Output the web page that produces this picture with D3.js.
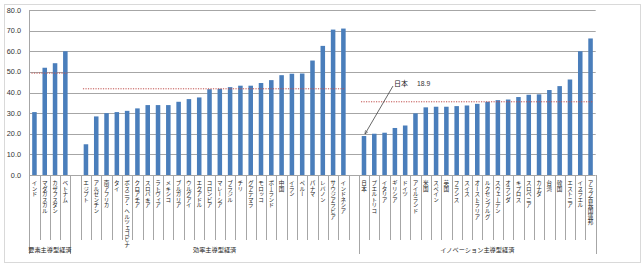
<!DOCTYPE html>
<html>
<head>
<meta charset="utf-8">
<script src="https://cdn.jsdelivr.net/npm/d3@7"></script>
<style>
  body { margin: 0; background: #fff; }
  svg { display: block; }
</style>
</head>
<body>
<script>
let groupNames = ["要素主導型経済", "効率主導型経済", "イノベーション主導型経済"];
let groupAverages = [49.4, 41.8, 35.5];

let factorCountries = ["インド", "マダガスカル", "カザフスタン", "ベトナム"];
let factorValues = [30.5, 52.0, 54.2, 60.0];

let efficiencyCountries = ["", "エジプト", "アルゼンチン", "南アフリカ", "タイ", "ボスニア・ヘルツェゴビナ", "クロアチア", "スロバキア", "ラトヴィア", "メキシコ", "ブルガリア", "ウルグアイ", "エクアドル", "コロンビア", "マレーシア", "ブラジル", "チリ", "グアテマラ", "モロッコ", "ポーランド", "中国", "イラン", "ペルー", "パナマ", "レバノン", "サウジアラビア", "インドネシア", ""];
let efficiencyValues = [null, 14.9, 28.4, 30.0, 30.5, 31.1, 32.3, 33.9, 33.9, 33.9, 35.5, 36.8, 37.6, 41.6, 41.8, 42.6, 43.3, 43.3, 44.6, 46.0, 48.4, 49.1, 49.2, 55.5, 62.6, 70.5, 71.0, null];

let innovationCountries = ["日本", "プエルトリコ", "イタリア", "ギリシア", "ドイツ", "アイルランド", "米国", "スペイン", "英国", "フランス", "スイス", "オーストラリア", "ルクセンブルグ", "スウェーデン", "オランダ", "キプロス", "スロベニア", "カナダ", "台湾", "韓国", "エストニア", "イスラエル", "アラブ首長国連邦"];
let innovationValues = [18.9, 20.0, 20.5, 22.8, 24.0, 29.9, 32.8, 33.1, 33.1, 33.4, 33.7, 34.5, 35.5, 36.3, 36.6, 37.8, 38.9, 39.1, 41.2, 43.1, 46.3, 60.0, 66.2];

let yTicks = [0, 10, 20, 30, 40, 50, 60, 70, 80];

let groupCountries = [factorCountries, efficiencyCountries, innovationCountries];
let groupValues = [factorValues, efficiencyValues, innovationValues];

let rows = [];
groupCountries.forEach(function(list, g) {
    list.forEach(function(name, i) {
        rows.push({key: "c" + rows.length, name: name, value: groupValues[g][i], group: g});
    });
});

let svg = d3.select("body").append("svg").attr("width", 644).attr("height", 267);

svg.append("rect").attr("x", 4.5).attr("y", 4.5).attr("width", 636).attr("height", 258)
    .attr("fill", "#fff").attr("stroke", "#d9d9d9");

let x = d3.scaleBand().domain(rows.map(d => d.key)).range([29.3, 595.7]).padding(0);
let y = d3.scaleLinear().domain([0, 80]).range([175, 10]);
let bw = x.bandwidth();

// grid
svg.selectAll("line.grid").data(yTicks).enter().append("line").attr("class", "grid")
    .attr("x1", x.range()[0]).attr("x2", x.range()[1])
    .attr("y1", d => Math.round(y(d)) + 0.5).attr("y2", d => Math.round(y(d)) + 0.5)
    .attr("stroke", "#a6a6a6").attr("stroke-width", 1);

svg.selectAll("text.ytick").data(yTicks).enter().append("text").attr("class", "ytick")
    .attr("x", 21).attr("y", d => y(d) + 2.5).attr("text-anchor", "end")
    .attr("font-family", "Liberation Sans, Arial, sans-serif").attr("font-size", 7.3).attr("fill", "#333")
    .text(d => d.toFixed(1));

svg.append("line").attr("x1", 29.5).attr("x2", 29.5).attr("y1", y(80)).attr("y2", y(0))
    .attr("stroke", "#a6a6a6");

// bars
let barW = bw * 0.44;
svg.selectAll("rect.bar").data(rows.filter(d => d.value != null)).enter().append("rect").attr("class", "bar")
    .attr("x", d => x(d.key) + (bw - barW) / 2).attr("width", barW)
    .attr("y", d => y(d.value)).attr("height", d => y(0) - y(d.value))
    .attr("fill", "#4a7ebb");

// group average lines
groupNames.forEach(function(name, g) {
    let members = rows.filter(d => d.group == g && d.value != null);
    let first = members[0], last = members[members.length - 1];
    svg.append("line")
        .attr("x1", x(first.key) + bw / 2 - 3).attr("x2", x(last.key) + bw / 2 + 2)
        .attr("y1", y(groupAverages[g])).attr("y2", y(groupAverages[g]))
        .attr("stroke", "#c0504d").attr("stroke-width", 1).attr("stroke-dasharray", "1.2,1.3");
});

// category ticks and group separators
svg.selectAll("line.ctick").data(rows).enter().append("line").attr("class", "ctick")
    .attr("x1", d => Math.round(x(d.key)) + 0.5).attr("x2", d => Math.round(x(d.key)) + 0.5)
    .attr("y1", y(0)).attr("y2", 240)
    .attr("stroke", "#a6a6a6");

let bounds = [];
groupNames.forEach(function(name, g) {
    let members = rows.filter(d => d.group == g);
    bounds.push({g: g, x0: x(members[0].key), x1: x(members[members.length - 1].key) + bw});
});
let edges = [bounds[0].x0].concat(bounds.map(b => b.x1));
svg.selectAll("line.gsep").data(edges).enter().append("line").attr("class", "gsep")
    .attr("x1", d => Math.round(d) + 0.5).attr("x2", d => Math.round(d) + 0.5)
    .attr("y1", y(0)).attr("y2", 254)
    .attr("stroke", "#a6a6a6");

svg.selectAll("text.cat").data(rows.filter(d => d.name != "")).enter().append("text").attr("class", "cat")
    .attr("x", d => x(d.key) + bw / 2).attr("y", 180)
    .attr("writing-mode", "vertical-rl")
    .attr("font-family", "Noto Sans CJK JP, sans-serif").attr("font-size", 5.6).attr("fill", "#222")
    .text(d => d.name);

svg.selectAll("text.group").data(bounds).enter().append("text").attr("class", "group")
    .attr("x", d => (d.x0 + d.x1) / 2).attr("y", 251.5).attr("text-anchor", "middle")
    .attr("font-family", "Noto Sans CJK JP, sans-serif").attr("font-size", 6.2).attr("fill", "#222")
    .text(d => groupNames[d.g]);

// Japan callout
let jp = rows.find(d => d.name == "日本");
let ax = x(jp.key) + bw / 2, ay = y(jp.value);
svg.append("defs").append("marker").attr("id", "arr").attr("viewBox", "0 0 10 10")
    .attr("refX", 9).attr("refY", 5).attr("markerWidth", 5).attr("markerHeight", 5).attr("orient", "auto")
    .append("path").attr("d", "M0,1 L9,5 L0,9").attr("fill", "none").attr("stroke", "#404040").attr("stroke-width", 1.3);
svg.append("line").attr("x1", ax + 29).attr("y1", ay - 50).attr("x2", ax + 1).attr("y2", ay - 2)
    .attr("stroke", "#404040").attr("stroke-width", 0.8).attr("marker-end", "url(#arr)");
svg.append("text").attr("x", ax + 30).attr("y", ay - 50)
    .attr("font-family", "Noto Sans CJK JP, sans-serif").attr("font-size", 7).attr("fill", "#222").text("日本");
svg.append("text").attr("x", ax + 53).attr("y", ay - 50)
    .attr("font-family", "Liberation Sans, Arial, sans-serif").attr("font-size", 6.8).attr("fill", "#333").text(jp.value.toFixed(1));
</script>
</body>
</html>
